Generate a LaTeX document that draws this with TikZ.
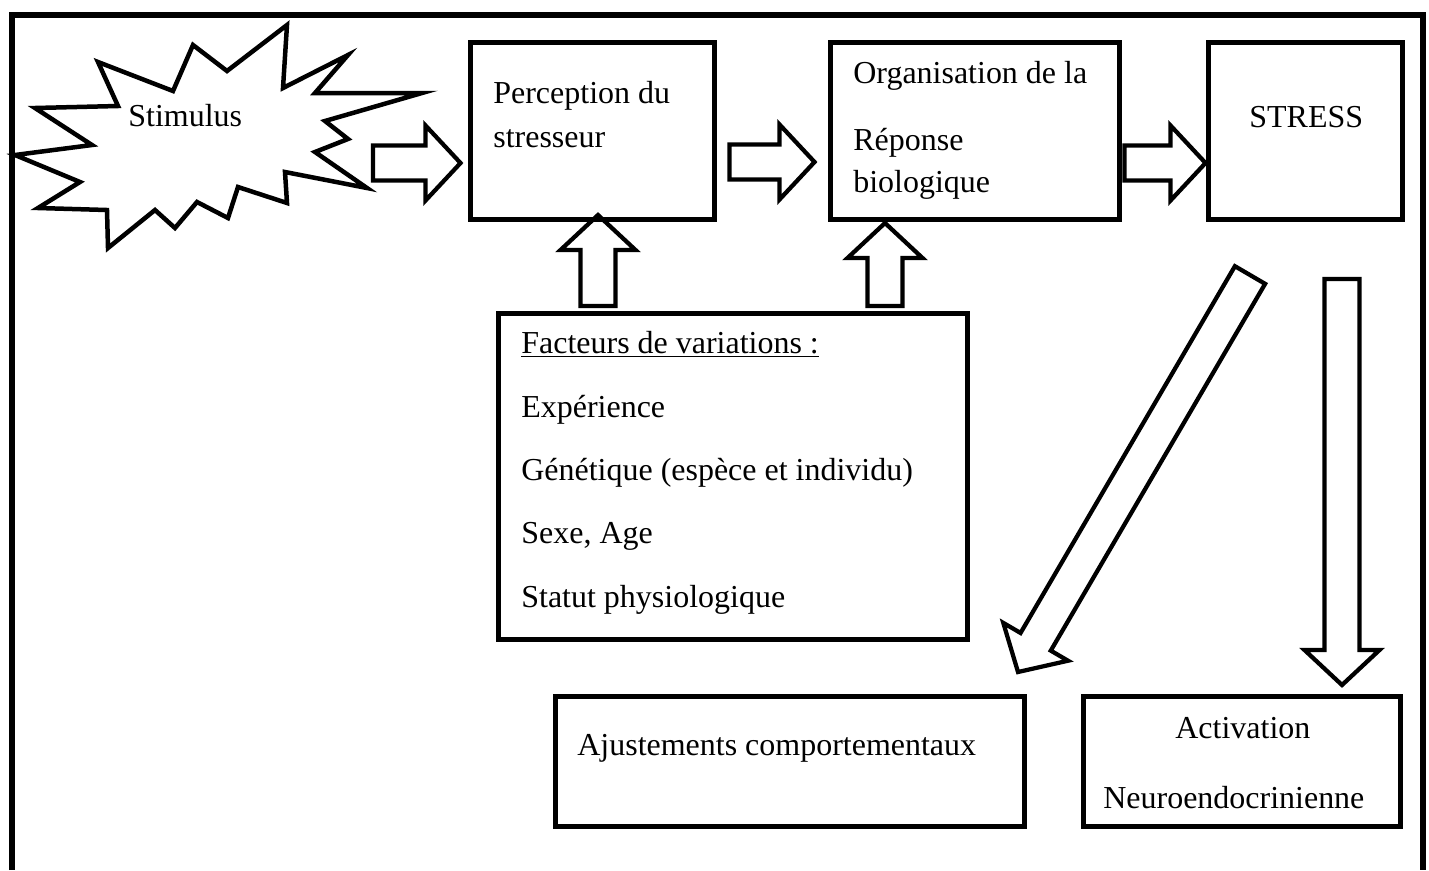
\documentclass[tikz,border=0pt]{standalone}
\usepackage{fontspec}
\setmainfont{Liberation Serif}
\usetikzlibrary{calc}

% hollow block arrow from #1 (tail) to #2 (tip)
\newcommand{\fatarrow}[2]{%
  \path ($(#2)!0.7cm!(#1)$) coordinate (hb);
  \draw[blockline] ($(#1)!0.35cm!90:(#2)$) -- ($(hb)!0.35cm!90:(#2)$)
    -- ($(hb)!0.75cm!90:(#2)$) -- (#2) -- ($(hb)!0.75cm!-90:(#2)$)
    -- ($(hb)!0.35cm!-90:(#2)$) -- ($(#1)!0.35cm!-90:(#2)$) -- cycle;
}

\begin{document}
\begin{tikzpicture}[x=0.02cm,y=-0.02cm,
    blockline/.style={line width=0.085cm, line join=miter},
    box/.style={draw, line width=0.1cm, inner sep=0pt},
    txt/.style={anchor=base west, inner sep=0pt, font=\fontsize{18.2}{20}\selectfont}]
    \useasboundingbox (0,0) rectangle (1429,870);
    % outer frame, open at the bottom
    \draw[line width=0.12cm] (12,870) -- (12,15) -- (1423,15) -- (1423,870);

    % stimulus burst
    \draw[blockline, line width=0.09cm] (15,155) -- (92,145) -- (35,108) -- (118,106) -- (98,62)
        -- (173,91) -- (193,45) -- (227,71) -- (287,25) -- (283,88) -- (348,55)
        -- (315,93) -- (422,93) -- (325,121) -- (348,139) -- (315,152) -- (367,188)
        -- (285,172) -- (287,203) -- (238,187) -- (228,218) -- (197,202) -- (175,228)
        -- (155,210) -- (108,248) -- (107,210) -- (38,208) -- (80,182) -- cycle;
    \node[txt] (stim) at (128,126) {Stimulus};

    % boxes
    \node[box, minimum width=4.9cm, minimum height=3.56cm] (percep) at (592.5,131) {};
    \node[box, minimum width=5.8cm, minimum height=3.56cm] (organ) at (975,131) {};
    \node[box, minimum width=3.88cm, minimum height=3.56cm] (stress) at (1305,131) {};
    \node[box, minimum width=9.4cm, minimum height=6.54cm] (facteurs) at (733,476.5) {};
    \node[box, minimum width=9.4cm, minimum height=2.6cm] (ajust) at (790,761) {};
    \node[box, minimum width=6.36cm, minimum height=2.6cm] (activ) at (1242,761) {};

    % texts
    \node[txt] (p1) at (493,103) {Perception du};
    \node[txt] (p2) at (493,147) {stresseur};
    \node[txt] (o1) at (853,83) {Organisation de la};
    \node[txt] (o2) at (853,150) {Réponse};
    \node[txt] (o3) at (853,192) {biologique};
    \node[txt] (s1) at (1249,127) {STRESS};
    \node[txt] (f0) at (521,353) {\underline{Facteurs de variations :}};
    \node[txt] (f1) at (521,417) {Expérience};
    \node[txt] (f2) at (521,480) {Génétique (espèce et individu)};
    \node[txt] (f3) at (521,543) {Sexe, Age};
    \node[txt] (f4) at (521,607) {Statut physiologique};
    \node[txt] (aj) at (577,755) {Ajustements comportementaux};
    \node[txt] (ac1) at (1175,738) {Activation};
    \node[txt] (ac2) at (1103,808) {Neuroendocrinienne};

    % arrow ends
    \coordinate (a1s) at (373,163);  \coordinate (a1e) at ([xshift=-0.14cm]percep.west |- 0,163);
    \coordinate (a2s) at ([xshift=0.24cm]percep.east |- 0,162); \coordinate (a2e) at ([xshift=-0.26cm]organ.west |- 0,162);
    \coordinate (a3s) at ([xshift=0.04cm]organ.east |- 0,163); \coordinate (a3e) at (stress.west |- 0,163);
    \coordinate (u1s) at (598,306);  \coordinate (u1e) at (598,215);
    \coordinate (u2s) at (885,306);  \coordinate (u2e) at (885,223);
    \coordinate (d1s) at (1250,275); \coordinate (d1e) at (1018,672);
    \coordinate (d2s) at (1342,279); \coordinate (d2e) at (1342,685);

    \fatarrow{a1s}{a1e}
    \fatarrow{a2s}{a2e}
    \fatarrow{a3s}{a3e}
    \fatarrow{u1s}{u1e}
    \fatarrow{u2s}{u2e}
    \fatarrow{d1s}{d1e}
    \fatarrow{d2s}{d2e}
\end{tikzpicture}
\end{document}
